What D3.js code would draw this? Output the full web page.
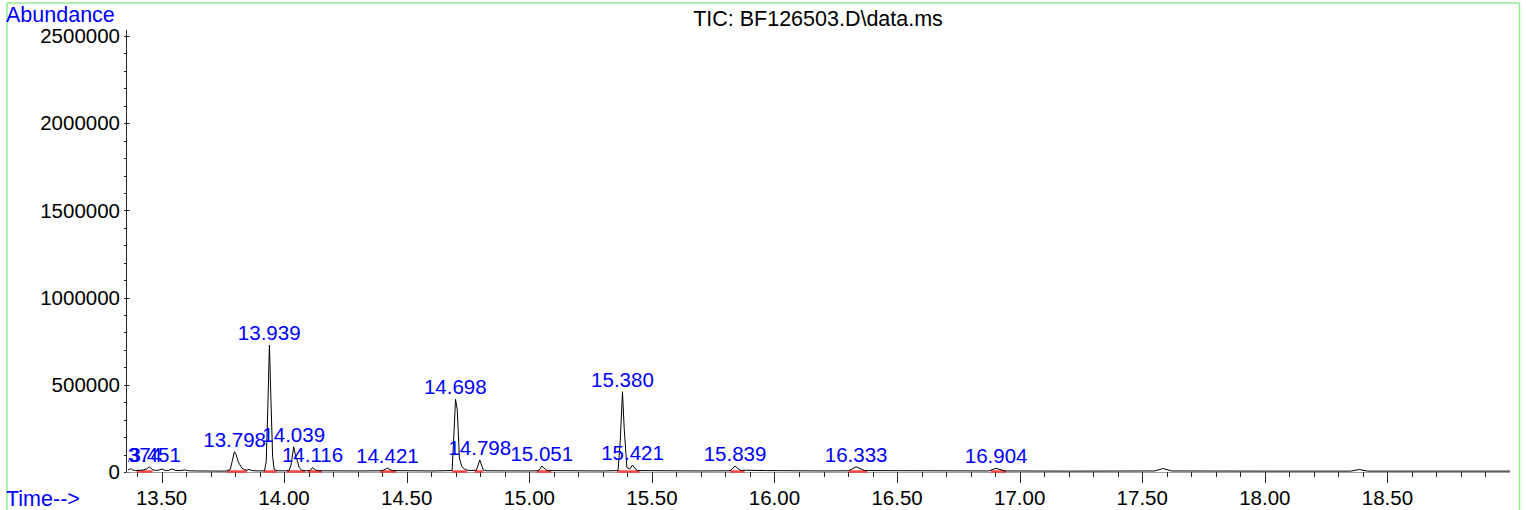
<!DOCTYPE html>
<html>
<head>
<meta charset="utf-8">
<script src="https://cdn.jsdelivr.net/npm/d3@7"></script>
<style>
  html, body { margin: 0; padding: 0; background: #fff; }
  svg { display: block; font-family: "Liberation Sans", Arial, sans-serif; }
</style>
</head>
<body>
<div id="chart"></div>
<script>
// trace (minutes, abundance)
const traceTime = [13.355, 13.368, 13.374, 13.382, 13.395, 13.41, 13.425, 13.44, 13.451, 13.462, 13.475, 13.49, 13.502, 13.515, 13.53, 13.543, 13.556, 13.575, 13.595, 13.61, 13.65, 13.70, 13.75,
  13.767, 13.780, 13.788, 13.797, 13.804, 13.813, 13.827, 13.837, 13.848, 13.857, 13.869, 13.90,
  13.920, 13.927, 13.934, 13.940, 13.946, 13.953, 13.959, 13.971, 14.004,
  14.020, 14.028, 14.039, 14.047, 14.054, 14.061, 14.072, 14.086,
  14.106, 14.116, 14.127, 14.139, 14.30,
  14.40, 14.421, 14.441, 14.60,
  14.685, 14.692, 14.699, 14.706, 14.715, 14.725, 14.735, 14.747, 14.763,
  14.784, 14.798, 14.812, 14.824, 15.00,
  15.038, 15.051, 15.072, 15.30,
  15.362, 15.371, 15.380, 15.387, 15.398, 15.410, 15.421, 15.431, 15.441, 15.70,
  15.820, 15.839, 15.861, 15.882, 15.967, 16.20,
  16.302, 16.333, 16.368,
  16.873, 16.904, 16.939, 17.20, 17.55, 17.586, 17.62, 18.00, 18.35, 18.385, 18.42, 19.0];
const traceAbund = [10000, 14000, 20000, 12000, 9000, 10000, 11000, 18000, 30000, 14000, 9000, 11000, 17000, 9000, 9500, 18000, 9000, 8000, 12000, 7000, 6000, 5500, 5000,
  6000, 15000, 60000, 116000, 100000, 58000, 23000, 14000, 10000, 15000, 8000, 6000,
  7000, 60000, 400000, 728000, 420000, 90000, 15000, 7000, 6500,
  8000, 40000, 145000, 90000, 65000, 25000, 10000, 7000,
  8000, 26000, 12000, 7000, 6000,
  7000, 22000, 8000, 6000,
  8000, 200000, 417000, 360000, 80000, 30000, 18000, 10000, 9000,
  10000, 69000, 12000, 7000, 6000,
  7000, 34000, 8000, 6000,
  8000, 180000, 460000, 250000, 25000, 18000, 40000, 20000, 8000, 6000,
  7000, 34000, 9000, 10000, 8000, 6000,
  7000, 30000, 8000,
  6000, 21000, 6000, 5000, 6000, 20000, 6000, 5000, 5000, 14000, 5000, 5000];

// labelled peaks
const peakTimes = [13.374, 13.451, 13.798, 13.939, 14.039, 14.116, 14.421, 14.698, 14.798, 15.051, 15.380, 15.421, 15.839, 16.333, 16.904];
const peakLabels = ["13.374", "13.451", "13.798", "13.939", "14.039", "14.116", "14.421", "14.698", "14.798", "15.051", "15.380", "15.421", "15.839", "16.333", "16.904"];
const peakHeights = [30000, 30000, 116000, 728000, 145000, 26000, 22000, 417000, 69000, 34000, 460000, 40000, 34000, 30000, 21000];
// integration baselines
const intStart = [13.399, 13.766, 13.916, 14.011, 14.097, 14.392, 14.685, 14.777, 15.031, 15.358, 15.405, 15.818, 16.303, 16.882];
const intEnd   = [13.464, 13.848, 13.970, 14.086, 14.154, 14.457, 14.746, 14.813, 15.089, 15.405, 15.450, 15.878, 16.378, 16.944];

const yTicks = [0, 500000, 1000000, 1500000, 2000000, 2500000];
const xTicks = [13.5, 14.0, 14.5, 15.0, 15.5, 16.0, 16.5, 17.0, 17.5, 18.0, 18.5];

const W = 1526, H = 510;
const fs = "20.5px";
const fsBig = "21.5px";

const svg = d3.select("#chart").append("svg")
  .attr("width", W).attr("height", H);

const x = d3.scaleLinear().domain([13.355, 19.0]).range([126, 1510]);
const y = d3.scaleLinear().domain([0, 2500000]).range([472, 36]);

// green frame
const green = "#90ee90";
svg.append("line").attr("x1", 7).attr("x2", 1519.5).attr("y1", 3).attr("y2", 3).attr("stroke", green).attr("stroke-width", 1.5);
svg.append("line").attr("x1", 7).attr("x2", 7).attr("y1", 3).attr("y2", H).attr("stroke", green).attr("stroke-width", 1.5);
svg.append("line").attr("x1", 1519.5).attr("x2", 1519.5).attr("y1", 3).attr("y2", H).attr("stroke", green).attr("stroke-width", 1.5);

// titles
svg.append("text").attr("x", 6).attr("y", 22).attr("fill", "#0000ff").style("font-size", fsBig).text("Abundance");
svg.append("text").attr("x", 6).attr("y", 506).attr("fill", "#0000ff").style("font-size", fsBig).text("Time-->");
svg.append("text").attr("x", (x.range()[0] + x.range()[1]) / 2).attr("y", 26)
  .attr("text-anchor", "middle").style("font-size", fsBig).text("TIC: BF126503.D\\data.ms");

// y axis
const ya = svg.append("g");
ya.append("line").attr("x1", 126.5).attr("x2", 126.5).attr("y1", y(2500000) - 6).attr("y2", y(0))
  .attr("stroke", "#222").attr("stroke-width", 1);
const yMinor = d3.range(0, 2500001, 100000).filter(v => v % 500000 !== 0);
ya.selectAll(".ymin").data(yMinor).join("line")
  .attr("x1", 124).attr("x2", 126.5)
  .attr("y1", d => Math.round(y(d)) + 0.5).attr("y2", d => Math.round(y(d)) + 0.5)
  .attr("stroke", "#222");
ya.selectAll(".ymaj").data(yTicks).join("line")
  .attr("x1", 124).attr("x2", 129.5)
  .attr("y1", d => Math.round(y(d)) + 0.5).attr("y2", d => Math.round(y(d)) + 0.5)
  .attr("stroke", "#222");
ya.selectAll("text").data(yTicks).join("text")
  .attr("x", 120).attr("y", d => y(d)).attr("dy", "0.35em")
  .attr("text-anchor", "end").style("font-size", fs).text(d => d);

// x axis
const xa = svg.append("g");
xa.append("line").attr("x1", x.range()[0]).attr("x2", x.range()[1]).attr("y1", 472.5).attr("y2", 472.5)
  .attr("stroke", "#888").attr("stroke-width", 0.8);
const xMinor = d3.range(134, 190).map(v => v / 10).filter(v => Math.round(v * 10) % 5 !== 0);
xa.selectAll(".xmin").data(xMinor).join("line")
  .attr("x1", d => Math.round(x(d)) + 0.5).attr("x2", d => Math.round(x(d)) + 0.5)
  .attr("y1", 472).attr("y2", 477)
  .attr("stroke", "#222");
xa.selectAll(".xmaj").data(xTicks).join("line")
  .attr("x1", d => Math.round(x(d)) + 0.5).attr("x2", d => Math.round(x(d)) + 0.5)
  .attr("y1", 472).attr("y2", 483)
  .attr("stroke", "#222");
xa.selectAll("text").data(xTicks).join("text")
  .attr("x", d => x(d)).attr("y", 505)
  .attr("text-anchor", "middle").style("font-size", fs).text(d => d.toFixed(2));

// plot area clip
svg.append("clipPath").attr("id", "plot")
  .append("rect").attr("x", 128).attr("y", 0).attr("width", 1389).attr("height", 480);
const plot = svg.append("g").attr("clip-path", "url(#plot)");

// integration baselines
plot.selectAll(".int").data(intStart).join("line")
  .attr("x1", d => x(d)).attr("x2", (d, i) => x(intEnd[i]))
  .attr("y1", 471.5).attr("y2", 471.5)
  .attr("stroke", "#ff2a2a").attr("stroke-width", 2.5).attr("opacity", 0.85);

// trace
const pts = traceTime.map((t, i) => [t, traceAbund[i]]);
plot.append("path").datum(pts)
  .attr("fill", "none").attr("stroke", "#000").attr("stroke-width", 1)
  .attr("d", d3.line().x(d => x(d[0])).y(d => y(d[1])));

// peak labels
plot.selectAll(".pk").data(peakTimes).join("text")
  .attr("x", d => x(d)).attr("y", (d, i) => y(peakHeights[i]) - 5)
  .attr("text-anchor", "middle").attr("fill", "#0000ff").style("font-size", fs)
  .text((d, i) => peakLabels[i]);
</script>
</body>
</html>
